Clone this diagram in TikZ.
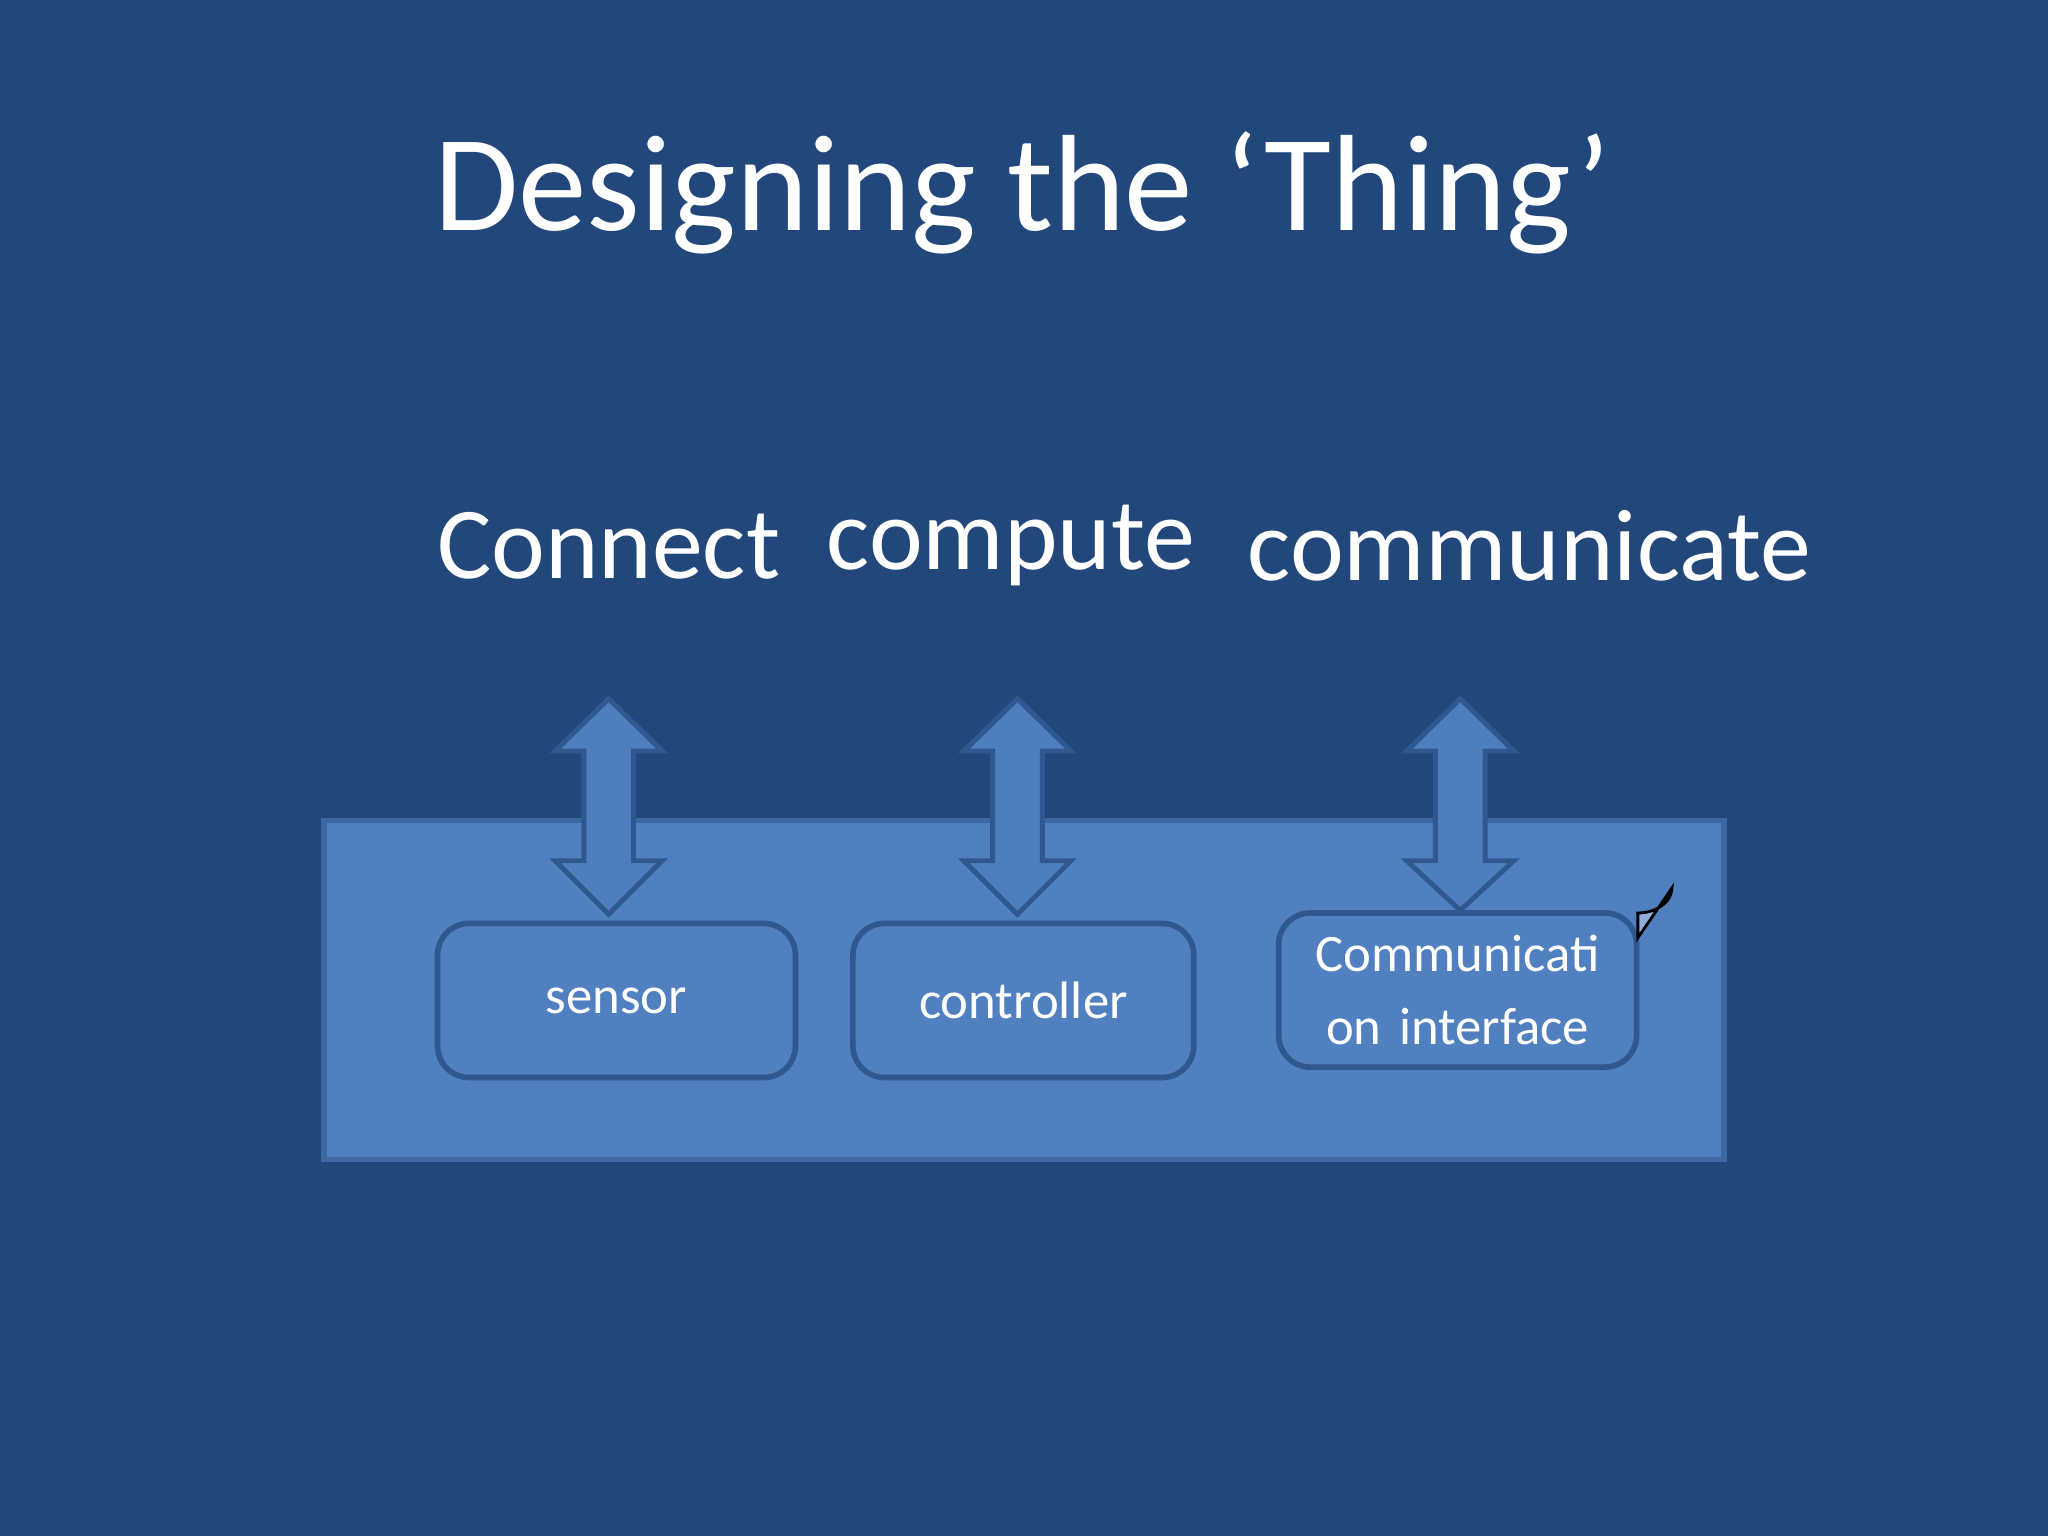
\documentclass[tikz,border=0pt]{standalone}
\usepackage{fontspec}
\setmainfont{Carlito}
\begin{document}
\begin{tikzpicture}[x=0.013061cm,y=-0.013061cm,
  panel/.style={fill=midblue,draw=panelborder,line width=1.5pt},
  unit/.style={draw=boxborder,line width=1.6pt,rounded corners=9pt,fill=midblue,text=white,font=\fontsize{15}{19}\selectfont,align=center,inner sep=0pt,minimum height=1.541cm},
  dbl/.style={fill=arrowfill,draw=boxborder,line width=1.4pt},
  head/.style={text=white,font=\fontsize{29}{34}\selectfont}]
\definecolor{bgblue}{HTML}{21477B}
\definecolor{midblue}{HTML}{5080BF}
\definecolor{panelborder}{HTML}{3D68A4}
\definecolor{boxborder}{HTML}{2F5890}
\definecolor{arrowfill}{HTML}{4E7EBE}
\definecolor{tabfill}{HTML}{8FAEDB}
\fill[bgblue] (0,0) rectangle (1568,1176);
\node[text=white,font=\fontsize{39}{44}\selectfont] (title) at (783,148) {Designing the ‘Thing’};
\node[head] (l1) at (466,418) {Connect};
\node[head] (l2) at (774,418) {compute};
\node[head] (l3) at (1171,418) {communicate};
\node[panel,minimum width=14.0cm,minimum height=3.396cm,inner sep=0pt] (panel) at (784,758) {};
\foreach \cx/\tp/\bt in {466/535/700, 779/535/700, 1118/535/697}{
  \draw[dbl] (\cx,\tp) -- (\cx+41,575) -- (\cx+19,575) -- (\cx+19,659) -- (\cx+41,659)
    -- (\cx,\bt) -- (\cx-41,659) -- (\cx-19,659) -- (\cx-19,575) -- (\cx-41,575) -- cycle;
}
\node[unit,minimum width=3.579cm] (sensor) at (472,766) {sensor};
\node[unit,minimum width=3.409cm] (controller) at (783.5,766) {controller};
\node[unit,minimum width=3.579cm,text width=3.0cm,font=\fontsize{15}{21}\selectfont] (comm) at (1116,758) {Communicati\\on interface};
\draw[fill=tabfill,draw=black,line width=0.8pt] (1254,699) arc (90:0:26 and 19) -- (1254,718) -- cycle;
\end{tikzpicture}
\end{document}
